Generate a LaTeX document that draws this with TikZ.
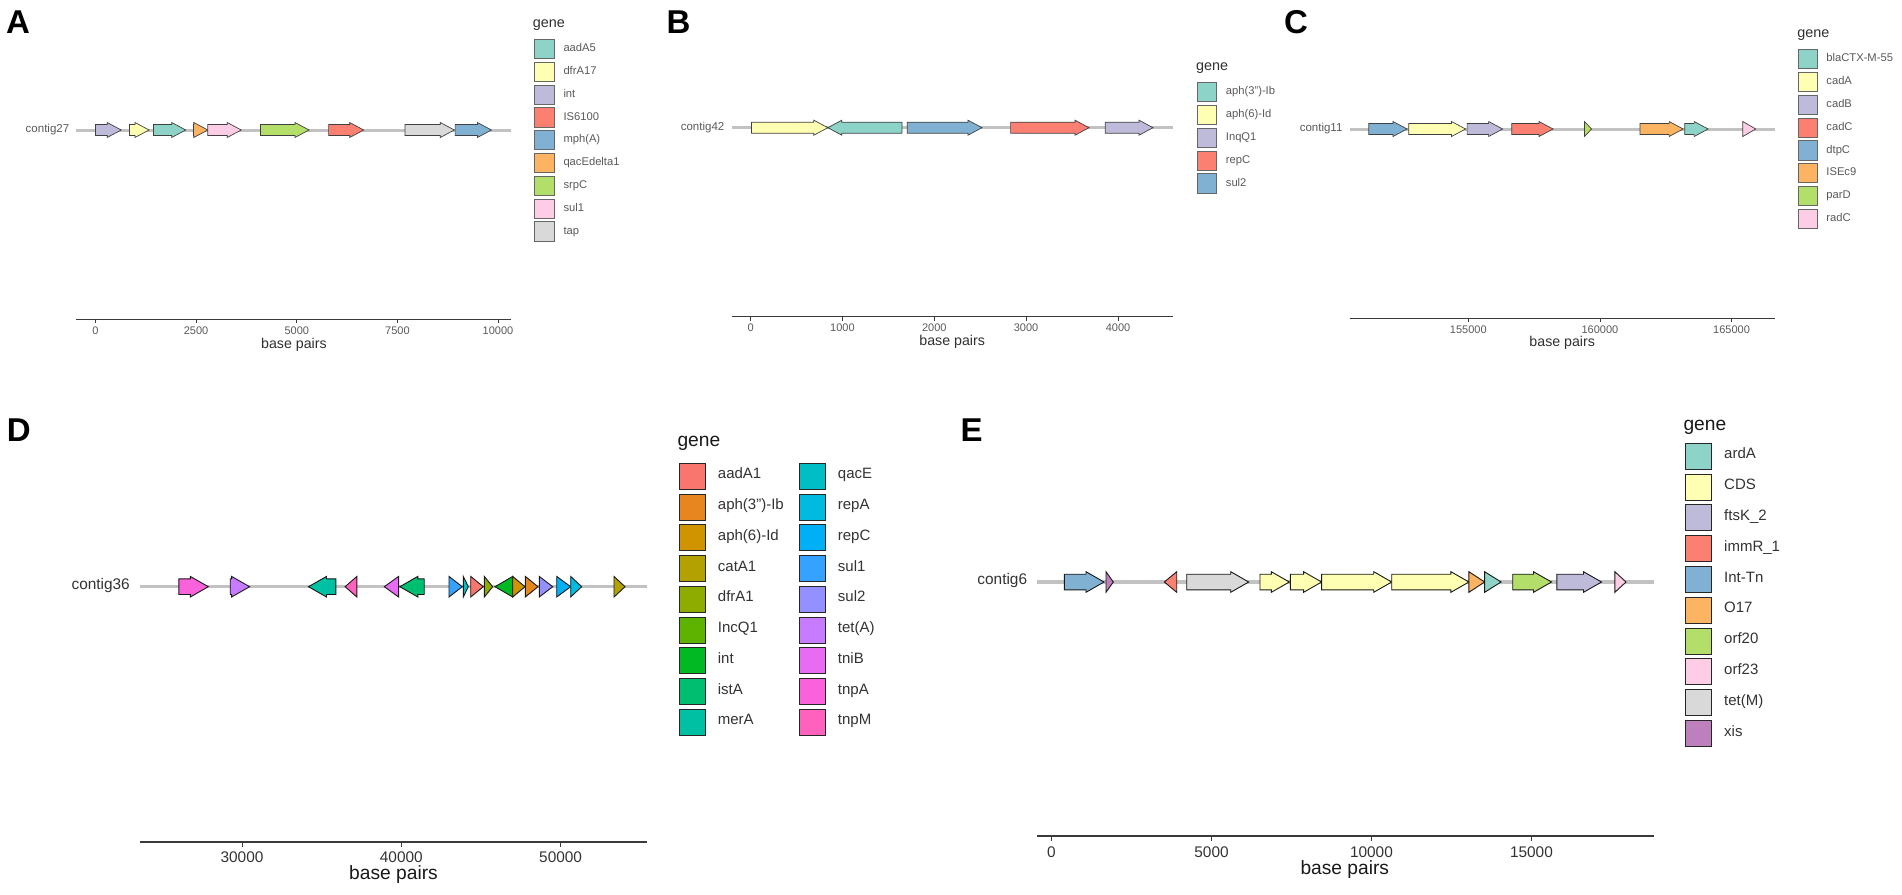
\documentclass[tikz,border=0pt]{standalone}
\usepackage{fontspec}
\setmainfont{Liberation Sans}
\newcommand{\fsz}[1]{\fontsize{#1}{#1}\selectfont}
% Set3 palette
\definecolor{sTeal}{HTML}{8DD3C7}
\definecolor{sYel}{HTML}{FFFFB3}
\definecolor{sLav}{HTML}{BEBADA}
\definecolor{sRed}{HTML}{FB8072}
\definecolor{sBlue}{HTML}{80B1D3}
\definecolor{sOra}{HTML}{FDB462}
\definecolor{sGrn}{HTML}{B3DE69}
\definecolor{sPink}{HTML}{FCCDE5}
\definecolor{sGray}{HTML}{D9D9D9}
\definecolor{sPurp}{HTML}{BC80BD}
% hue palette (18)
\definecolor{h01}{HTML}{F8766D}
\definecolor{h02}{HTML}{E7851E}
\definecolor{h03}{HTML}{D09400}
\definecolor{h04}{HTML}{B2A100}
\definecolor{h05}{HTML}{8EAB00}
\definecolor{h06}{HTML}{5EB300}
\definecolor{h07}{HTML}{00B923}
\definecolor{h08}{HTML}{00BE70}
\definecolor{h09}{HTML}{00C0A3}
\definecolor{h10}{HTML}{00BFC4}
\definecolor{h11}{HTML}{00BAE0}
\definecolor{h12}{HTML}{00B0F6}
\definecolor{h13}{HTML}{35A2FF}
\definecolor{h14}{HTML}{9590FF}
\definecolor{h15}{HTML}{C77CFF}
\definecolor{h16}{HTML}{E76BF3}
\definecolor{h17}{HTML}{FA62DB}
\definecolor{h18}{HTML}{FF62BC}
\definecolor{trackgray}{HTML}{C2C2C2}
\definecolor{axisgray}{HTML}{3A3A3A}
\definecolor{txtA}{HTML}{5A5A5A}
\definecolor{txtD}{HTML}{333333}
\definecolor{ttlA}{HTML}{303030}
\newcommand{\garrow}[8]{%
  \pgfmathsetmacro{\gaLen}{abs(#4-#3)}%
  \pgfmathsetmacro{\gaHd}{min(#8,\gaLen)}%
  \pgfmathsetmacro{\gaNeck}{#4-sign(#4-#3)*\gaHd}%
  \draw[#1,fill=#2] (#3,#5-#6) -- (\gaNeck,#5-#6) -- (\gaNeck,#5-#7) -- (#4,#5) -- (\gaNeck,#5+#7) -- (\gaNeck,#5+#6) -- (#3,#5+#6) -- cycle;
}
\newcommand{\gaa}[4]{\garrow{geneA}{#1}{#2}{#3}{#4}{5.5}{7.5}{14}}
\newcommand{\gdd}[4]{\garrow{geneD}{#1}{#2}{#3}{#4}{7.8}{10.3}{18}}
\begin{document}
\begin{tikzpicture}[x=1pt,y=-1pt,
  geneA/.style={draw=black!75,line width=0.7pt,line join=miter},
  geneD/.style={draw=black!90,line width=0.9pt,line join=miter},
  trackA/.style={draw=trackgray,line width=3pt},
  trackD/.style={draw=trackgray,line width=3.5pt},
  axA/.style={draw=axisgray,line width=1.2pt},
  axD/.style={draw=axisgray,line width=1.6pt},
  tickA/.style={draw=axisgray,line width=0.8pt},
  tickD/.style={draw=axisgray,line width=1pt},
  panel/.style={anchor=base west,inner sep=0,font=\fsz{33}\bfseries},
  contigA/.style={anchor=mid east,inner sep=0,font=\fsz{11.5},text=txtA},
  contigD/.style={anchor=mid east,inner sep=0,font=\fsz{15.4},text=txtD},
  ticklabA/.style={anchor=center,inner sep=0,font=\fsz{11},text=txtA},
  ticklabD/.style={anchor=center,inner sep=0,font=\fsz{15.4},text=txtD},
  xtitA/.style={anchor=mid,inner sep=0,font=\fsz{14.2},text=ttlA},
  xtitD/.style={anchor=mid,inner sep=0,font=\fsz{19.2},text=black!90},
  gtitA/.style={anchor=mid west,inner sep=0,font=\fsz{14.4},text=ttlA},
  gtitD/.style={anchor=mid west,inner sep=0,font=\fsz{19.2},text=black!90},
  lblA/.style={anchor=mid west,inner sep=0,font=\fsz{11.2},text=txtA},
  lblD/.style={anchor=mid west,inner sep=0,font=\fsz{15},text=txtD},
  keyA/.style={draw=black!60,line width=0.8pt},
  keyD/.style={draw=black!85,line width=1pt}]
\useasboundingbox[fill=white] (0,0) rectangle (1902,894);

% ================= Panel A =================
\node[panel] (pA) at (6,33) {A};
\draw[trackA] (76.3,130) -- (511,130);
\node[contigA] (cA) at (69.4,130) {contig27};
\gaa{sLav}{95.5}{121.2}{130}
\gaa{sYel}{129.4}{149}{130}
\gaa{sTeal}{153.5}{185.7}{130}
\gaa{sOra}{193.5}{207.8}{130}
\gaa{sPink}{207.8}{241.2}{130}
\gaa{sGrn}{260.4}{309}{130}
\gaa{sRed}{328.6}{363.7}{130}
\gaa{sGray}{404.9}{454.3}{130}
\gaa{sBlue}{455.1}{491.4}{130}
\draw[axA] (76.3,319.3) -- (511,319.3);
\foreach \v/\x in {0/95.5,2500/196.1,5000/296.8,7500/397.4,10000/498}{
  \draw[tickA] (\x,319.3) -- (\x,323.3);
  \node[ticklabA] at (\x,331) {\v};
}
\node[xtitA] (bpA) at (293.9,345.7) {base pairs};
\node[gtitA] (gA) at (532.7,25) {gene};
\foreach \c/\t [count=\i from 0] in {sTeal/aadA5,sYel/dfrA17,sLav/int,sRed/IS6100,sBlue/mph(A),sOra/qacEdelta1,sGrn/srpC,sPink/sul1,sGray/tap}{
  \pgfmathsetmacro{\yy}{49+22.8*\i}
  \draw[keyA,fill=\c] (534.7,\yy-9.6) rectangle (553.9,\yy+9.6);
  \node[lblA] (lA\i) at (563.3,\yy) {\t};
}

% ================= Panel B =================
\node[panel] (pB) at (666.5,33) {B};
\draw[trackA] (731.8,127.7) -- (1172.7,127.7);
\node[contigA] (cB) at (724.5,127.7) {contig42};
\gaa{sYel}{751.4}{827.8}{127.7}
\gaa{sTeal}{902}{827.8}{127.7}
\gaa{sBlue}{907.3}{982}{127.7}
\gaa{sRed}{1010.6}{1089}{127.7}
\gaa{sLav}{1105.3}{1153}{127.7}
\draw[axA] (731.8,316.7) -- (1172.7,316.7);
\foreach \v/\x in {0/750.6,1000/842.4,2000/934.3,3000/1026.1,4000/1118}{
  \draw[tickA] (\x,316.7) -- (\x,320.7);
  \node[ticklabA] at (\x,328) {\v};
}
\node[xtitA] (bpB) at (952.2,343) {base pairs};
\node[gtitA] (gB) at (1195.9,67.7) {gene};
\foreach \c/\t [count=\i from 0] in {sTeal/aph(3")-Ib,sYel/aph(6)-Id,sLav/InqQ1,sRed/repC,sBlue/sul2}{
  \pgfmathsetmacro{\yy}{92.2+22.8*\i}
  \draw[keyA,fill=\c] (1197.6,\yy-9.6) rectangle (1216.3,\yy+9.6);
  \node[lblA] (lB\i) at (1225.7,\yy) {\t};
}

% ================= Panel C =================
\node[panel] (pC) at (1284,33) {C};
\draw[trackA] (1349.8,129) -- (1774.6,129);
\node[contigA] (cC) at (1342.6,129) {contig11};
\gaa{sBlue}{1368.8}{1407}{129}
\gaa{sYel}{1408.7}{1465.5}{129}
\gaa{sLav}{1467.1}{1502.6}{129}
\gaa{sRed}{1511.8}{1553}{129}
\gaa{sGrn}{1584.4}{1591.6}{129}
\gaa{sOra}{1640}{1683.1}{129}
\gaa{sTeal}{1684.8}{1708.1}{129}
\gaa{sPink}{1742.8}{1755.7}{129}
\draw[axA] (1349.8,318.3) -- (1774.6,318.3);
\foreach \v/\x in {155000/1468.3,160000/1599.9,165000/1731.5}{
  \draw[tickA] (\x,318.3) -- (\x,322.3);
  \node[ticklabA] at (\x,329.3) {\v};
}
\node[xtitA] (bpC) at (1562.2,344) {base pairs};
\node[gtitA] (gC) at (1797.2,35) {gene};
\foreach \c/\t [count=\i from 0] in {sTeal/blaCTX-M-55,sYel/cadA,sLav/cadB,sRed/cadC,sBlue/dtpC,sOra/ISEc9,sGrn/parD,sPink/radC}{
  \pgfmathsetmacro{\yy}{59.2+22.8*\i}
  \draw[keyA,fill=\c] (1798.4,\yy-9.6) rectangle (1817.4,\yy+9.6);
  \node[lblA] (lC\i) at (1826.2,\yy) {\t};
}

% ================= Panel D =================
\node[panel] (pD) at (6.7,441.7) {D};
\draw[trackD] (140.2,586.7) -- (646.9,586.7);
\node[contigD] (cD) at (130,586.7) {contig36};
\gdd{h17}{178.9}{208.3}{586.7}
\gdd{h15}{230.2}{249.6}{586.7}
\gdd{h09}{335.9}{308.5}{586.7}
\gdd{h18}{356.9}{345.1}{586.7}
\gdd{h16}{398.6}{384.3}{586.7}
\gdd{h08}{424.2}{399.8}{586.7}
\gdd{h13}{449}{462.3}{586.7}
\gdd{h10}{463.3}{468.3}{586.7}
\gdd{h01}{470.7}{483.3}{586.7}
\gdd{h05}{484.3}{492.7}{586.7}
\gdd{h07}{512.7}{495}{586.7}
\gdd{h03}{512.7}{525}{586.7}
\gdd{h02}{525.3}{538}{586.7}
\gdd{h14}{539.3}{552.7}{586.7}
\gdd{h12}{556.7}{570.7}{586.7}
\gdd{h11}{570.7}{581.7}{586.7}
\gdd{h04}{614}{625}{586.7}
\draw[axD] (140.2,841.7) -- (646.9,841.7);
\foreach \v/\x in {30000/242,40000/401.3,50000/560.6}{
  \draw[tickD] (\x,841.7) -- (\x,846.7);
  \node[ticklabD] at (\x,856.7) {\v};
}
\node[xtitD] (bpD) at (393.5,877.3) {base pairs};
\node[gtitD] (gD) at (677.3,444) {gene};
\foreach \c/\t [count=\i from 0] in {h01/aadA1,h02/aph(3")-Ib,h03/aph(6)-Id,h04/catA1,h05/dfrA1,h06/IncQ1,h07/int,h08/istA,h09/merA}{
  \pgfmathsetmacro{\yy}{476.3+30.75*\i}
  \draw[keyD,fill=\c] (679.3,\yy-13) rectangle (705.3,\yy+13);
  \node[lblD] (lD\i) at (717.7,\yy) {\t};
}
\foreach \c/\t [count=\i from 0] in {h10/qacE,h11/repA,h12/repC,h13/sul1,h14/sul2,h15/tet(A),h16/tniB,h17/tnpA,h18/tnpM}{
  \pgfmathsetmacro{\yy}{476.3+30.75*\i}
  \draw[keyD,fill=\c] (799.3,\yy-13) rectangle (825.3,\yy+13);
  \node[lblD] (mD\i) at (837.7,\yy) {\t};
}

% ================= Panel E =================
\node[panel] (pE) at (960.5,441) {E};
\draw[trackD] (1037.3,582) -- (1654,582);
\node[contigD] (cE) at (1027.3,582) {contig6};
\gdd{sBlue}{1064.3}{1104}{582}
\gdd{sPurp}{1106}{1113.3}{582}
\gdd{sRed}{1176.7}{1164.3}{582}
\gdd{sGray}{1186.7}{1248.7}{582}
\gdd{sYel}{1260}{1289.3}{582}
\gdd{sYel}{1290.4}{1321.6}{582}
\gdd{sYel}{1321.6}{1391.7}{582}
\gdd{sYel}{1391.7}{1468.9}{582}
\gdd{sOra}{1468.9}{1484.6}{582}
\gdd{sTeal}{1484.6}{1501.1}{582}
\gdd{sGrn}{1512.7}{1551.5}{582}
\gdd{sLav}{1556.9}{1601.5}{582}
\gdd{sPink}{1614.9}{1626}{582}
\draw[axD] (1037.2,836) -- (1654,836);
\foreach \v/\x in {0/1051.5,5000/1211.5,10000/1371.4,15000/1531.4}{
  \draw[tickD] (\x,836) -- (\x,841);
  \node[ticklabD] at (\x,851.7) {\v};
}
\node[xtitD] (bpE) at (1344.8,871.7) {base pairs};
\node[gtitD] (gE) at (1683.3,427.5) {gene};
\foreach \c/\t [count=\i from 0] in {sTeal/ardA,sYel/CDS,sLav/ftsK\_2,sRed/immR\_1,sBlue/Int-Tn,sOra/O17,sGrn/orf20,sPink/orf23,sGray/tet(M),sPurp/xis}{
  \pgfmathsetmacro{\yy}{456.3+30.8*\i}
  \draw[keyD,fill=\c] (1685.7,\yy-13) rectangle (1711.3,\yy+13);
  \node[lblD] (lE\i) at (1724,\yy) {\t};
}
\end{tikzpicture}
\end{document}
